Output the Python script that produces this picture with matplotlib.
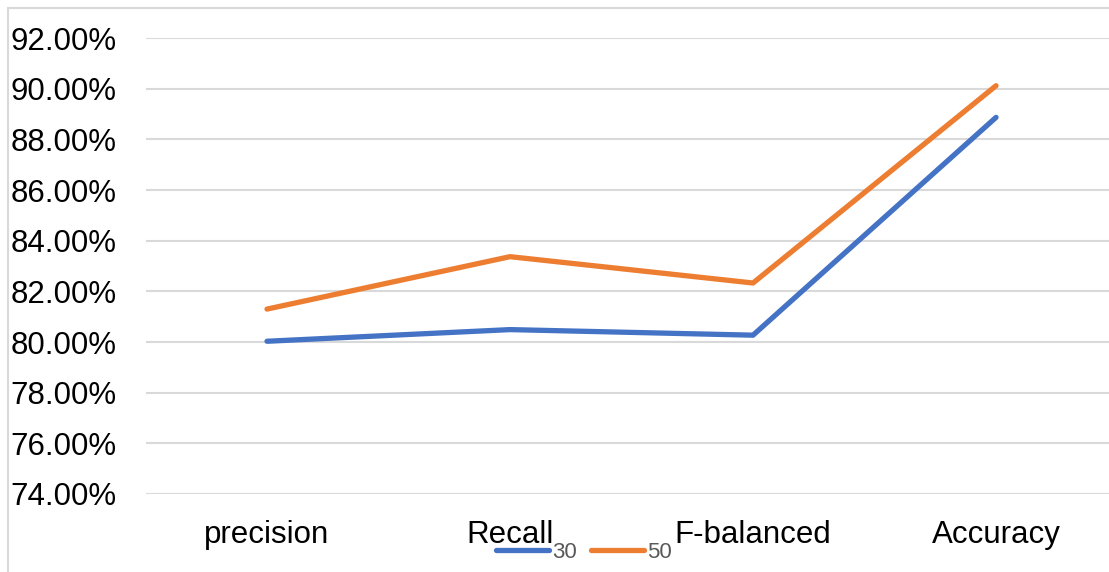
import matplotlib.pyplot as plt
from matplotlib.patches import Rectangle
from matplotlib.ticker import FuncFormatter, MultipleLocator

plt.rcParams['font.family'] = ['Liberation Sans', 'DejaVu Sans']

metrics = ['precision', 'Recall', 'F-balanced', 'Accuracy']
series_names = ['30', '50']
scores_30 = [80.03, 80.49, 80.27, 88.87]
scores_50 = [81.30, 83.37, 82.33, 90.12]
line_colors = ['#4472C4', '#ED7D31']

fig = plt.figure(figsize=(11.09, 5.72), dpi=100)
ax = fig.add_axes([0.1312, 0.1364, 0.8765, 0.797])

# chart area border (left and top edges visible)
fig.patches.append(Rectangle((7.5 / 1109, -0.1), 1.2, 1 - 7.5 / 572 + 0.1,
                             transform=fig.transFigure, fill=False,
                             edgecolor='#D9D9D9', linewidth=1.5))

x = range(len(metrics))
for vals, name, color in zip([scores_30, scores_50], series_names, line_colors):
    ax.plot(x, vals, color=color, linewidth=3.8, solid_capstyle='round',
            solid_joinstyle='round', label=name, zorder=3)

ax.set_xlim(-0.5, len(metrics) - 0.5)
ax.set_ylim(74, 92)
ax.yaxis.set_major_locator(MultipleLocator(2))
ax.yaxis.set_major_formatter(FuncFormatter(lambda v, _: f'{v:.2f}%'))
ax.set_xticks(list(x))
ax.set_xticklabels(metrics)

ax.grid(axis='y', color='#D9D9D9', linewidth=1.5, zorder=0)
for side in ['top', 'right', 'bottom', 'left']:
    ax.spines[side].set_visible(False)
ax.tick_params(axis='both', length=0, labelsize=22.5, colors='black')
ax.tick_params(axis='y', pad=21)
ax.tick_params(axis='x', pad=19)

fig.legend(loc='center', bbox_to_anchor=(584 / 1109, 1 - 552 / 572), ncol=2,
           frameon=False, fontsize=16, handlelength=2.4, handletextpad=0.15,
           columnspacing=0.6, labelcolor='#595959')

fig.savefig('out.png', dpi=100)
